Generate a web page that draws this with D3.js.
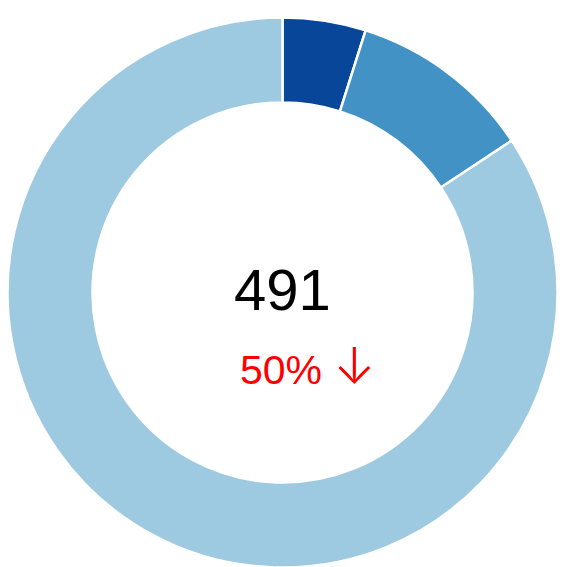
<!DOCTYPE html>
<html>
<head>
<meta charset="utf-8">
<script src="https://cdn.jsdelivr.net/npm/d3@7"></script>
<style>
  body { margin: 0; background: #fff; }
</style>
</head>
<body>
<div id="chart"></div>
<script>
var categories = ["A", "B", "C"];
var values = [24, 53, 414];
var colors = ["#08469a", "#4292c6", "#9ecae1"];
var total_label = "491";
var change_label = "50%";
var change_arrow = "\u2193";

var width = 571;
var height = 567;
var cx = 282.5;
var cy = 292.5;
var outer = 275;
var inner = 190;

var svg = d3
  .select("#chart")
  .append("svg")
  .attr("width", width)
  .attr("height", height);

var g = svg.append("g").attr("transform", "translate(" + cx + "," + cy + ")");

var pie = d3.pie().sort(null).value(function(d) {
  return d;
});
var arc = d3.arc().innerRadius(inner).outerRadius(outer);

var color = d3.scaleOrdinal().domain(categories).range(colors);

g.selectAll(".slice")
  .data(pie(values))
  .enter()
  .append("path")
  .attr("class", "slice")
  .attr("d", arc)
  .attr("fill", function(d, i) {
    return color(categories[i]);
  })
  .attr("stroke", "#fff")
  .attr("stroke-width", 2.5);

g.append("text")
  .attr("x", 0)
  .attr("y", 17.5)
  .attr("text-anchor", "middle")
  .attr("font-family", "Liberation Sans, Arial, sans-serif")
  .attr("font-size", "58px")
  .attr("fill", "#000")
  .text(total_label);

var change = g
  .append("text")
  .attr("x", -42.5)
  .attr("y", 91.5)
  .attr("text-anchor", "start")
  .attr("font-family", "Liberation Sans, Arial, sans-serif")
  .attr("font-size", "41px")
  .attr("fill", "#ff0000");

change.append("tspan").text(change_label + " ");
change
  .append("tspan")
  .attr("font-family", "Inter")
  .attr("font-weight", 300)
  .attr("font-size", "50px")
  .text(change_arrow);
</script>
</body>
</html>
